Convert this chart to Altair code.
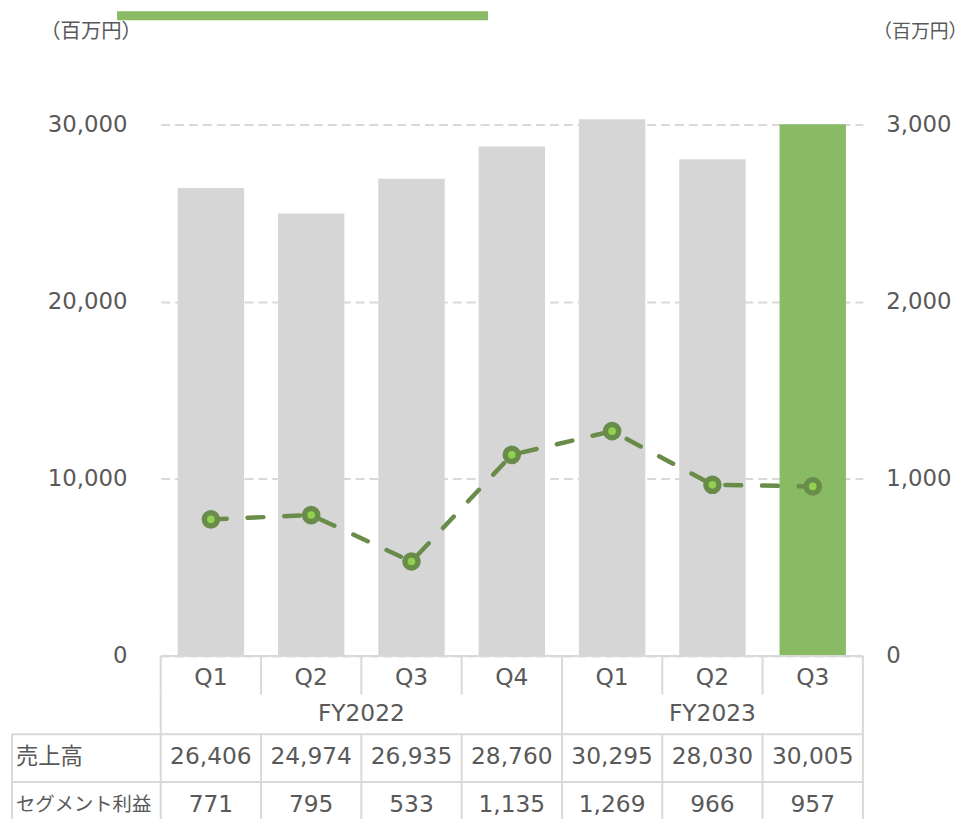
import altair as alt
import pandas as pd

# ---- data ----
fiscal_years = ["FY2022", "FY2022", "FY2022", "FY2022", "FY2023", "FY2023", "FY2023"]
quarters = ["Q1", "Q2", "Q3", "Q4", "Q1", "Q2", "Q3"]
sales = [26406, 24974, 26935, 28760, 30295, 28030, 30005]
profit = [771, 795, 533, 1135, 1269, 966, 957]
row_labels = ["売上高", "セグメント利益"]
unit_label = "（百万円）"
left_ticks = [0, 10000, 20000, 30000]
right_ticks = [0, 1000, 2000, 3000]

# ---- styles ----
GRAY = "#d6d6d6"
GREEN = "#88bb64"
LINE = "#6a8c4b"
DOT = "#92d050"
TXT = "#595959"
GRID = "#d9d9d9"
NUMFONT = "DejaVu Sans"
JPFONT = "Noto Sans CJK JP"
W, H = 708, 536
LEFT, TOP = 154, 114

keys = [f"{fy} {q}" for fy, q in zip(fiscal_years, quarters)]
df = pd.DataFrame({
    "key": keys, "fy": fiscal_years, "q": quarters,
    "sales": sales, "profit": profit,
    "state": ["current" if k == keys[-1] else "past" for k in keys],
})

xs = alt.Scale(paddingInner=0, paddingOuter=0)


def X(**kw):
    return alt.X("key:N", sort=keys, scale=xs, axis=None, **kw)


one = pd.DataFrame({"k": [0]})

bars = alt.Chart(df).mark_bar(width=alt.RelativeBandSize(0.662)).encode(
    x=X(),
    y=alt.Y("sales:Q", scale=alt.Scale(domain=[0, 30000], nice=False),
            axis=alt.Axis(values=left_ticks, format=",.0f", labelFontSize=23, labelColor=TXT,
                          labelFont=NUMFONT, labelPadding=34, ticks=False, domain=False,
                          grid=True, gridColor=GRID, gridDash=[9, 5], gridWidth=2,
                          title=unit_label, titleAngle=0, titleX=-122, titleY=-94,
                          titleAlign="left", titleBaseline="middle", titleFont=JPFONT,
                          titleFontSize=20.5, titleFontWeight="normal", titleColor=TXT)),
    color=alt.Color("state:N", scale=alt.Scale(domain=["past", "current"], range=[GRAY, GREEN]),
                    legend=None),
)

yr = alt.Y("profit:Q", scale=alt.Scale(domain=[0, 3000], nice=False),
           axis=alt.Axis(orient="right", values=right_ticks, format=",.0f", labelFontSize=23,
                         labelColor=TXT, labelFont=NUMFONT, labelPadding=23, ticks=False,
                         domain=False, grid=False,
                         title=unit_label, titleAngle=0, titleX=10, titleY=-94,
                         titleAlign="left", titleBaseline="middle", titleFont=JPFONT,
                         titleFontSize=19, titleFontWeight="normal", titleColor=TXT))

line = alt.Chart(df).mark_line(color=LINE, strokeWidth=4.5, strokeDash=[16, 21],
                               strokeCap="round").encode(x=X(), y=yr)
pts = alt.Chart(df).mark_point(shape="circle", filled=True, fill=DOT, stroke=LINE,
                               strokeWidth=5.5, size=175, opacity=1).encode(x=X(), y=yr)
profit_layer = alt.layer(line, pts)

# ---- table below the plot ----
ROW_Q, ROW_FY, ROW_S, ROW_P, ROW_END = H, H + 39, H + 79, H + 127, H + 200
rule_style = dict(color=GRID, strokeWidth=2)
num_style = dict(fontSize=23.5, color=TXT, font=NUMFONT)

q_text = alt.Chart(df).mark_text(**num_style).encode(
    x=X(), y=alt.value(H + 22), text="q:N")
s_text = alt.Chart(df).mark_text(**num_style).encode(
    x=X(), y=alt.value(H + 102), text=alt.Text("sales:Q", format=","))
p_text = alt.Chart(df).mark_text(**num_style).encode(
    x=X(), y=alt.value(H + 150), text=alt.Text("profit:Q", format=","))

fy_layers = []
group_starts = []
for fy in dict.fromkeys(fiscal_years):
    idx = [i for i, f in enumerate(fiscal_years) if f == fy]
    group_starts.append(keys[idx[0]])
    n = len(idx)
    anchor = keys[idx[0] + n // 2]
    band = 0 if n % 2 == 0 else 0.5
    d = pd.DataFrame({"key": [anchor], "label": [fy]})
    fy_layers.append(alt.Chart(d).mark_text(**num_style).encode(
        x=X(bandPosition=band), y=alt.value(H + 59), text="label:N"))

row1 = alt.Chart(pd.DataFrame({"label": [row_labels[0]]})).mark_text(
    fontSize=22.5, color=TXT, font=JPFONT, align="left").encode(
    x=alt.value(-146), y=alt.value(H + 102), text="label:N")
row2 = alt.Chart(pd.DataFrame({"label": [row_labels[1]]})).mark_text(
    fontSize=19.5, color=TXT, font=JPFONT, align="left").encode(
    x=alt.value(-146), y=alt.value(H + 150), text="label:N")

v_q = alt.Chart(df).mark_rule(**rule_style).encode(
    x=X(bandPosition=0), y=alt.value(ROW_Q), y2=alt.value(ROW_FY))
v_data = alt.Chart(df).mark_rule(**rule_style).encode(
    x=X(bandPosition=0), y=alt.value(ROW_S), y2=alt.value(ROW_END))
v_fy = alt.Chart(pd.DataFrame({"key": group_starts})).mark_rule(**rule_style).encode(
    x=X(bandPosition=0), y=alt.value(ROW_FY), y2=alt.value(ROW_S))
v_right = alt.Chart(pd.DataFrame({"key": [keys[-1]]})).mark_rule(**rule_style).encode(
    x=X(bandPosition=1), y=alt.value(ROW_Q), y2=alt.value(ROW_END))
v_left = alt.Chart(one).mark_rule(**rule_style).encode(
    x=alt.value(-150), y=alt.value(ROW_S), y2=alt.value(ROW_END))
h_axis = alt.Chart(one).mark_rule(**rule_style).encode(
    x=alt.value(0), x2=alt.value(W), y=alt.value(ROW_Q))
h_s = alt.Chart(one).mark_rule(**rule_style).encode(
    x=alt.value(-150), x2=alt.value(W), y=alt.value(ROW_S))
h_p = alt.Chart(one).mark_rule(**rule_style).encode(
    x=alt.value(-150), x2=alt.value(W), y=alt.value(ROW_P))

top_bar = alt.Chart(one).mark_rect(color="#8aba63").encode(
    x=alt.value(-44), x2=alt.value(330), y=alt.value(-TOP), y2=alt.value(-TOP + 9))

chart = alt.layer(
    bars, profit_layer,
    v_q, v_data, v_fy, v_right, v_left, h_axis, h_s, h_p,
    q_text, s_text, p_text, *fy_layers, row1, row2, top_bar,
).resolve_scale(y="independent").properties(
    width=W, height=H,
    autosize=alt.AutoSizeParams(type="none"),
    padding={"left": LEFT, "top": TOP, "right": 969 - LEFT - W, "bottom": 811 - TOP - H},
).configure_view(stroke=None)

chart.save("out.html", embed_options={"renderer": "svg", "actions": False})
